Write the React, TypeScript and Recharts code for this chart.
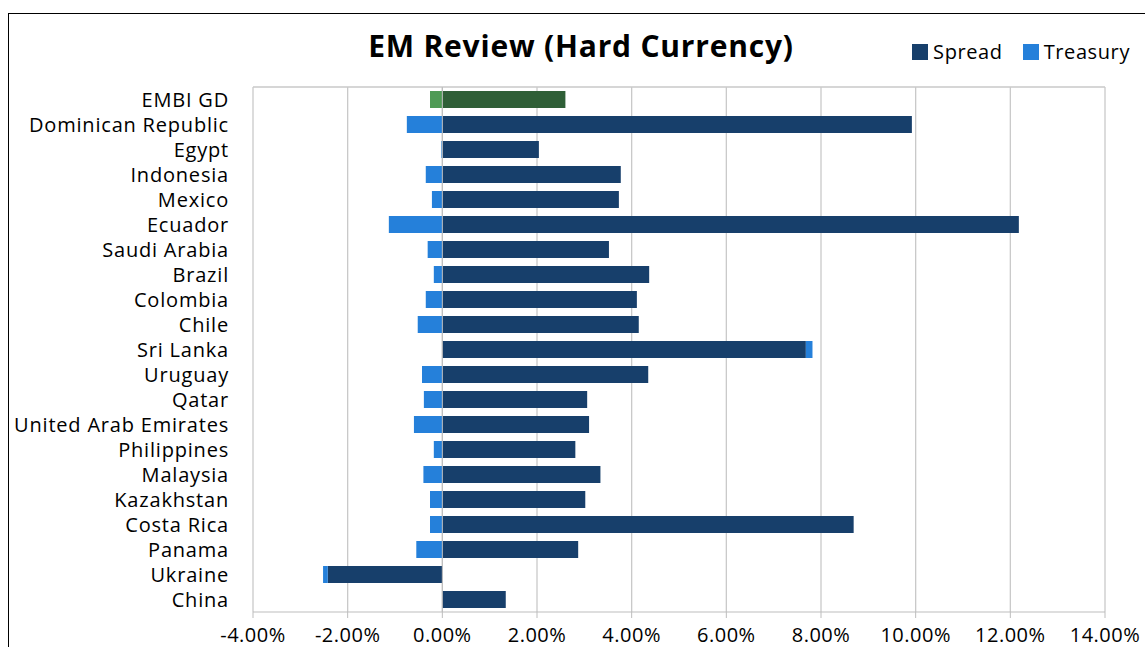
import React from 'react';
import {Bar, BarChart, CartesianGrid, Cell, Legend, ReferenceLine, XAxis, YAxis} from "recharts";

const countries = [
    'EMBI GD', 'Dominican Republic', 'Egypt', 'Indonesia', 'Mexico', 'Ecuador', 'Saudi Arabia',
    'Brazil', 'Colombia', 'Chile', 'Sri Lanka', 'Uruguay', 'Qatar', 'United Arab Emirates',
    'Philippines', 'Malaysia', 'Kazakhstan', 'Costa Rica', 'Panama', 'Ukraine', 'China',
];
const spread = [
    2.60, 9.92, 2.04, 3.77, 3.73, 12.18, 3.52,
    4.37, 4.11, 4.15, 7.68, 4.35, 3.06, 3.10,
    2.81, 3.34, 3.02, 8.69, 2.87, -2.42, 1.34,
];
const treasury = [
    -0.26, -0.75, -0.02, -0.35, -0.22, -1.13, -0.31,
    -0.18, -0.35, -0.52, 0.14, -0.43, -0.39, -0.60,
    -0.18, -0.40, -0.26, -0.26, -0.55, -0.10, 0,
];
const xTicks = [-4, -2, 0, 2, 4, 6, 8, 10, 12, 14];

const SPREAD = "#173F6B";
const TREASURY = "#2580DA";
const SPREAD_INDEX = "#2F5F37";
const TREASURY_INDEX = "#4E9A55";

const data = countries.map((name, i) => ({name, spread: spread[i], treasury: treasury[i]}));

const FONT = '"Open Sans", sans-serif';

// legend drawn from recharts payload, spaced like the excel one
const LegendContent = (props: any) => {
    const items = props.payload || [];
    return (
        <div style={{display: 'flex', alignItems: 'center', fontFamily: FONT, fontSize: 20, letterSpacing: 0.6, color: '#000'}}>
            {items.map((it: any, i: number) => (
                <div key={`l-${i}`} style={{display: 'flex', alignItems: 'center', marginLeft: i === 0 ? 0 : 20}}>
                    <span style={{display: 'inline-block', width: 16, height: 16, background: it.color, marginRight: 5}}/>
                    <span>{it.value}</span>
                </div>
            ))}
        </div>
    );
};

const App = () => {
    return (
        <div style={{position: 'fixed', left: 0, top: 0, width: 1145, height: 647, background: '#fff', fontFamily: FONT}}>
            <div style={{position: 'absolute', left: 8, top: 13, right: 0, bottom: 0, borderTop: '1.5px solid #000', borderLeft: '1.5px solid #000'}}/>
            <div style={{position: 'absolute', left: 0, width: 1162, top: 25, textAlign: 'center', fontSize: 30, fontWeight: 700, letterSpacing: 0.8, color: '#000'}}>
                EM Review (Hard Currency)
            </div>
            <BarChart width={1145} height={647} data={data} layout="vertical" stackOffset="sign"
                      margin={{top: 87, right: 40, bottom: 5, left: 0}} barSize={17}
                      style={{position: 'absolute', left: 0, top: 0}}>
                <CartesianGrid stroke="#c9c9c9" strokeWidth={1.3}
                               horizontalCoordinatesGenerator={(p: any) => [p.offset.top]}/>
                <XAxis type="number" domain={[-4, 14]} ticks={xTicks} height={30}
                       tickFormatter={(v: number) => `${v.toFixed(2)}%`}
                       tick={{fill: '#000', fontSize: 20, fontFamily: FONT, letterSpacing: 0.5}}
                       tickSize={6} tickMargin={10} stroke="#bdbdbd" interval={0}/>
                <YAxis type="category" dataKey="name" width={253} tickSize={0} tickMargin={24}
                       axisLine={false} interval={0}
                       tick={{fill: '#000', fontSize: 20, fontFamily: FONT, letterSpacing: 0.8}}/>
                <ReferenceLine x={0} stroke="#bdbdbd"/>
                <Legend verticalAlign="middle" align="center" layout="horizontal" content={<LegendContent/>}
                        wrapperStyle={{top: 38, right: 15, left: 'auto', bottom: 'auto', width: 'auto'}}/>
                <Bar dataKey="spread" name="Spread" stackId="a" fill={SPREAD} isAnimationActive={false}>
                    {data.map((d, i) => <Cell key={`s-${i}`} fill={i === 0 ? SPREAD_INDEX : SPREAD}/>)}
                </Bar>
                <Bar dataKey="treasury" name="Treasury" stackId="a" fill={TREASURY} isAnimationActive={false}>
                    {data.map((d, i) => <Cell key={`t-${i}`} fill={i === 0 ? TREASURY_INDEX : TREASURY}/>)}
                </Bar>
            </BarChart>
        </div>
    );
};

export default App;
